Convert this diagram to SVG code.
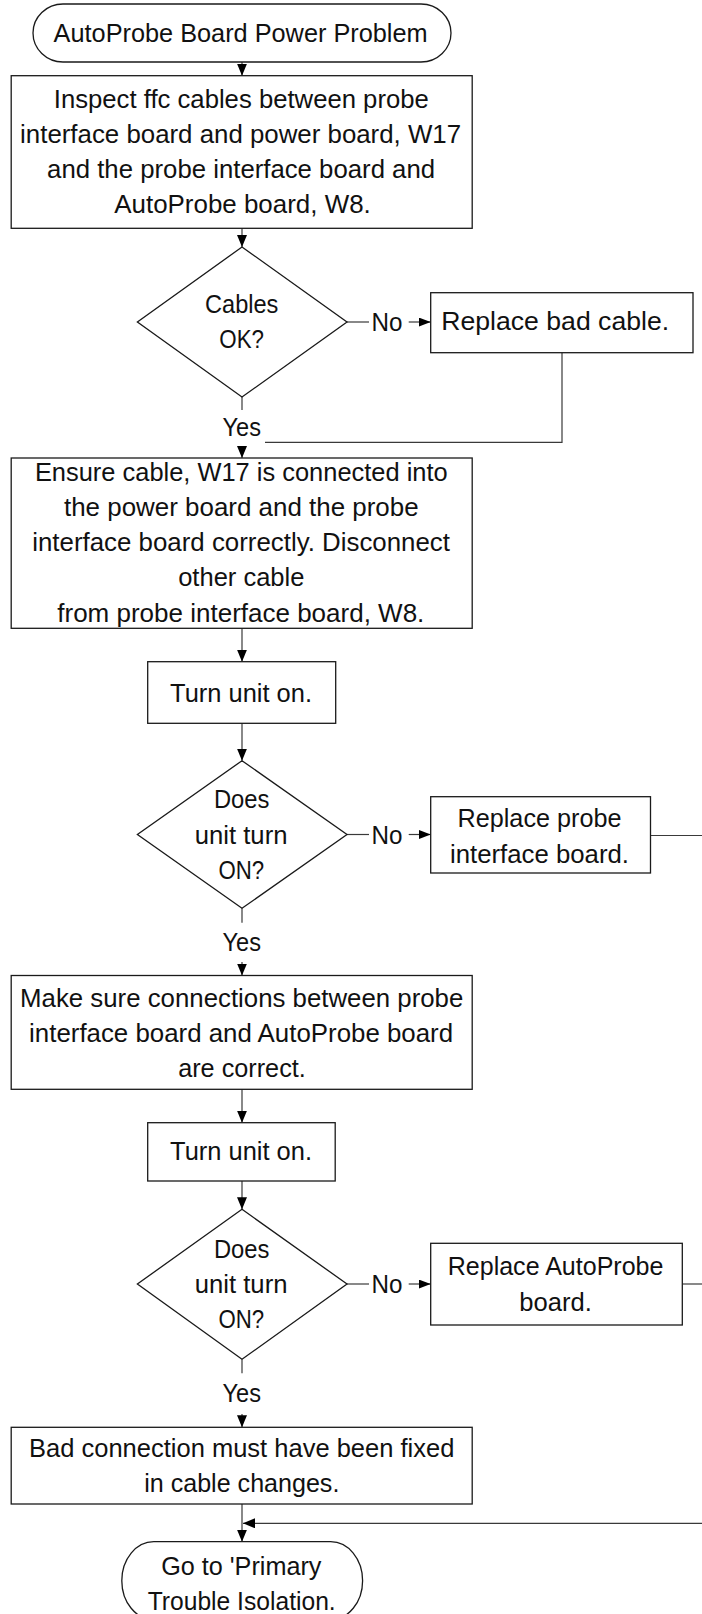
<svg xmlns="http://www.w3.org/2000/svg" width="702" height="1614" viewBox="0 0 702 1614">
<style>
  .shape { fill: #ffffff; stroke: #1a1a1a; stroke-width: 1.3; }
  .conn { fill: none; stroke: #3a3a3a; stroke-width: 1.2; }
  text { font-family: "Liberation Sans", Arial, sans-serif; font-size: 25.5px; fill: #111111; text-anchor: middle; }
</style>
<defs>
  <marker id="arr" markerUnits="userSpaceOnUse" markerWidth="12" markerHeight="10" refX="12" refY="5" orient="auto">
    <path d="M0,0 L12,5 L0,10 z" fill="#000000"/>
  </marker>
  <marker id="arrs" markerUnits="userSpaceOnUse" markerWidth="12" markerHeight="9" refX="12" refY="4.5" orient="auto">
    <path d="M0,0 L12,4.5 L0,9 z" fill="#000000"/>
  </marker>
</defs>
<rect width="702" height="1614" fill="#ffffff"/>

<g id="connectors">
  <line class="conn" x1="242" y1="62" x2="242" y2="75.7" marker-end="url(#arr)"/>
  <line class="conn" x1="242" y1="228.3" x2="242" y2="247" marker-end="url(#arr)"/>
  <line class="conn" x1="242" y1="397" x2="242" y2="410"/>
  <line class="conn" x1="242" y1="446" x2="242" y2="458" marker-end="url(#arr)"/>
  <line class="conn" x1="347" y1="322" x2="369" y2="322"/>
  <line class="conn" x1="408.7" y1="322" x2="430.7" y2="322" marker-end="url(#arrs)"/>
  <polyline class="conn" points="562,352.7 562,442.3 265,442.3"/>
  <line class="conn" x1="242" y1="628.3" x2="242" y2="661.7" marker-end="url(#arr)"/>
  <line class="conn" x1="242" y1="723.3" x2="242" y2="760.7" marker-end="url(#arr)"/>
  <line class="conn" x1="347" y1="834.5" x2="369" y2="834.5"/>
  <line class="conn" x1="408.7" y1="834.5" x2="430.7" y2="834.5" marker-end="url(#arrs)"/>
  <line class="conn" x1="650.5" y1="835.5" x2="702" y2="835.5"/>
  <line class="conn" x1="242" y1="908.3" x2="242" y2="922.7"/>
  <line class="conn" x1="242" y1="962" x2="242" y2="975.5" marker-end="url(#arr)"/>
  <line class="conn" x1="242" y1="1089.3" x2="242" y2="1122.7" marker-end="url(#arr)"/>
  <line class="conn" x1="242" y1="1181" x2="242" y2="1209.3" marker-end="url(#arr)"/>
  <line class="conn" x1="347" y1="1284" x2="369" y2="1284"/>
  <line class="conn" x1="408.7" y1="1284" x2="430.7" y2="1284" marker-end="url(#arrs)"/>
  <line class="conn" x1="682.3" y1="1284" x2="702" y2="1284"/>
  <line class="conn" x1="242" y1="1359.3" x2="242" y2="1373.3"/>
  <line class="conn" x1="242" y1="1414" x2="242" y2="1427.3" marker-end="url(#arr)"/>
  <line class="conn" x1="242" y1="1504" x2="242" y2="1541.7" marker-end="url(#arr)"/>
  <line class="conn" x1="702" y1="1523.3" x2="243" y2="1523.3" marker-end="url(#arr)"/>
  <text x="387" y="331.3" textLength="31" lengthAdjust="spacingAndGlyphs">No</text>
  <text x="241.7" y="435.5" textLength="38.5" lengthAdjust="spacingAndGlyphs">Yes</text>
  <text x="387" y="844" textLength="31" lengthAdjust="spacingAndGlyphs">No</text>
  <text x="241.7" y="950.7" textLength="38.5" lengthAdjust="spacingAndGlyphs">Yes</text>
  <text x="387" y="1292.7" textLength="31" lengthAdjust="spacingAndGlyphs">No</text>
  <text x="241.7" y="1401.7" textLength="38.5" lengthAdjust="spacingAndGlyphs">Yes</text>
</g>

<g id="start">
  <rect class="shape" x="33" y="4" width="418" height="58" rx="30" ry="29"/>
  <text x="240.6" y="42.3" textLength="374" lengthAdjust="spacingAndGlyphs">AutoProbe Board Power Problem</text>
</g>

<g id="inspect">
  <rect class="shape" x="11.2" y="75.7" width="461" height="152.6"/>
  <text x="241.3" y="108.3" textLength="375" lengthAdjust="spacingAndGlyphs">Inspect ffc cables between probe</text>
  <text x="240.6" y="143.3" textLength="441" lengthAdjust="spacingAndGlyphs">interface board and power board, W17</text>
  <text x="241.1" y="178.3" textLength="388" lengthAdjust="spacingAndGlyphs">and the probe interface board and</text>
  <text x="242.5" y="213.3" textLength="256.5" lengthAdjust="spacingAndGlyphs">AutoProbe board, W8.</text>
</g>

<g id="cables-ok">
  <polygon class="shape" points="242,247 347,322 242,397 137.4,322"/>
  <text x="241.7" y="313.3" textLength="73.4" lengthAdjust="spacingAndGlyphs">Cables</text>
  <text x="241.7" y="348.3" textLength="44.7" lengthAdjust="spacingAndGlyphs">OK?</text>
</g>

<g id="replace-cable">
  <rect class="shape" x="430.7" y="292.7" width="262.3" height="60"/>
  <text x="555.2" y="330" textLength="228" lengthAdjust="spacingAndGlyphs">Replace bad cable.</text>
</g>

<g id="ensure">
  <rect class="shape" x="11.2" y="458" width="461" height="170.3"/>
  <text x="241.3" y="480.5" textLength="412.8" lengthAdjust="spacingAndGlyphs">Ensure cable, W17 is connected into</text>
  <text x="241.3" y="515.8" textLength="354.6" lengthAdjust="spacingAndGlyphs">the power board and the probe</text>
  <text x="241.1" y="551" textLength="417.7" lengthAdjust="spacingAndGlyphs">interface board correctly. Disconnect</text>
  <text x="241.3" y="586.3" textLength="126.3" lengthAdjust="spacingAndGlyphs">other cable</text>
  <text x="240.8" y="621.6" textLength="367.1" lengthAdjust="spacingAndGlyphs">from probe interface board, W8.</text>
</g>

<g id="turn-on-1">
  <rect class="shape" x="147.7" y="661.7" width="188" height="61.6"/>
  <text x="241" y="701.7" textLength="141.9" lengthAdjust="spacingAndGlyphs">Turn unit on.</text>
</g>

<g id="turns-on-1">
  <polygon class="shape" points="242,760.7 347,834.5 242,908.3 137.4,834.5"/>
  <text x="241.7" y="808.3" textLength="55.5" lengthAdjust="spacingAndGlyphs">Does</text>
  <text x="241.1" y="844" textLength="92.7" lengthAdjust="spacingAndGlyphs">unit turn</text>
  <text x="241.3" y="879.3" textLength="45.7" lengthAdjust="spacingAndGlyphs">ON?</text>
</g>

<g id="replace-probe">
  <rect class="shape" x="430.7" y="796.7" width="219.8" height="76.3"/>
  <text x="539.5" y="827.3" textLength="163.9" lengthAdjust="spacingAndGlyphs">Replace probe</text>
  <text x="539.5" y="862.7" textLength="179" lengthAdjust="spacingAndGlyphs">interface board.</text>
</g>

<g id="make-sure">
  <rect class="shape" x="11.2" y="975.5" width="461" height="113.8"/>
  <text x="241.7" y="1006.7" textLength="443.2" lengthAdjust="spacingAndGlyphs">Make sure connections between probe</text>
  <text x="241.1" y="1041.7" textLength="424" lengthAdjust="spacingAndGlyphs">interface board and AutoProbe board</text>
  <text x="242" y="1076.7" textLength="127.6" lengthAdjust="spacingAndGlyphs">are correct.</text>
</g>

<g id="turn-on-2">
  <rect class="shape" x="147.7" y="1122.7" width="187.5" height="58.3"/>
  <text x="241" y="1160" textLength="141.9" lengthAdjust="spacingAndGlyphs">Turn unit on.</text>
</g>

<g id="turns-on-2">
  <polygon class="shape" points="242,1209.3 347,1284 242,1359.3 137.4,1284"/>
  <text x="241.7" y="1258.3" textLength="55.5" lengthAdjust="spacingAndGlyphs">Does</text>
  <text x="241.1" y="1292.7" textLength="92.7" lengthAdjust="spacingAndGlyphs">unit turn</text>
  <text x="241.3" y="1328.3" textLength="45.7" lengthAdjust="spacingAndGlyphs">ON?</text>
</g>

<g id="replace-autoprobe">
  <rect class="shape" x="430.7" y="1243.3" width="251.6" height="81.7"/>
  <text x="555.6" y="1275" textLength="215.8" lengthAdjust="spacingAndGlyphs">Replace AutoProbe</text>
  <text x="555.6" y="1310.7" textLength="72.5" lengthAdjust="spacingAndGlyphs">board.</text>
</g>

<g id="bad-connection">
  <rect class="shape" x="11.2" y="1427.3" width="461" height="76.7"/>
  <text x="241.7" y="1456.7" textLength="425.3" lengthAdjust="spacingAndGlyphs">Bad connection must have been fixed</text>
  <text x="241.8" y="1491.7" textLength="195.2" lengthAdjust="spacingAndGlyphs">in cable changes.</text>
</g>

<g id="end">
  <rect class="shape" x="121.8" y="1541.7" width="240.8" height="78" rx="32" ry="39"/>
  <text x="241.3" y="1575" textLength="160.3" lengthAdjust="spacingAndGlyphs">Go to 'Primary</text>
  <text x="241.7" y="1610" textLength="188" lengthAdjust="spacingAndGlyphs">Trouble Isolation.</text>
</g>
</svg>
